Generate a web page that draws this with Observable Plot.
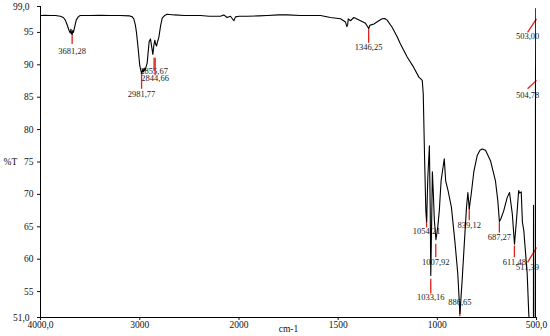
<!DOCTYPE html>
<html>
<head>
<meta charset="utf-8">
<script src="https://cdn.jsdelivr.net/npm/d3@7"></script>
<script src="https://cdn.jsdelivr.net/npm/@observablehq/plot@0.6"></script>
<style>
  html, body { margin: 0; padding: 0; background: #fff; }
  #chart { width: 550px; height: 336px; }
</style>
</head>
<body>
<div id="chart"></div>
<script>
// Spectrum (wavenumber cm-1, %T)
const wavenumber = [4000,3950,3900,3850,3800,3770,3750,3730,3712,3700,3693,3687,3681,3675,3668,3655,3640,3620,3600,3500,3400,3300,3200,3100,3075,3060,3045,3033,3016,3000,2990,2981,2970,2962,2955,2948,2938,2925,2915,2905,2892,2880,2868,2858,2848,2840,2831,2820,2808,2790,2774,2750,2723,2650,2550,2450,2388,2300,2187,2153,2120,2086,2052,2035,2000,1959,1900,1858,1800,1757,1690,1589,1539,1488,1463,1456,1452,1449,1438,1421,1400,1387,1362,1352,1346,1340,1330,1320,1295,1278,1265,1253,1228,1202,1186,1152,1119,1093,1076,1071,1064,1058,1054,1048,1040,1036,1033,1029,1025,1020,1015,1007,998,990,981,965,958,946,929,912,897,886,875,863,853,846,839,829,816,799,785,774,757,732,707,695,687,680,665,648,636,622,611,600,590,585,577,571,564,547,539,530,518,515.5,515,514.5,512,510,506,505,504.5,503.5,503,502.5,502,501.5,501,500.5,500];
const transmittance = [97.6,97.65,97.6,97.6,97.5,97.3,96.9,96.1,95.3,94.9,95.5,94.8,94.7,95.3,95.0,95.9,96.9,97.4,97.6,97.6,97.65,97.6,97.6,97.55,97.4,97.1,96.2,95.0,92.5,89.9,89.2,88.7,89.3,88.9,89.5,89.1,89.6,90.3,92.0,93.6,94.0,92.8,91.6,93.0,93.8,93.2,92.9,93.6,94.2,96.0,97.2,97.6,97.8,97.7,97.6,97.6,97.6,97.5,97.5,97.7,97.3,97.5,96.8,97.4,97.5,97.5,97.55,97.6,97.7,97.7,97.6,97.6,97.3,97.1,96.6,95.9,96.2,97.1,96.8,97.3,97.0,96.8,96.4,95.9,95.6,96.1,96.2,96.3,96.8,97.1,97.15,96.9,95.8,94.3,93.2,91.2,89.6,88.1,87.6,85.5,75.2,67.5,65.8,72.6,77.5,68,57.5,65,73.5,70,66,63.0,64.9,67.5,72.1,75.5,72.1,70.6,68,62.9,57.8,51.6,56.7,62.9,68,70.3,67.8,70.1,73.5,76.0,76.8,77.0,76.8,75.2,72.1,69,65.8,66.2,67.5,69.5,70.3,67,62.3,66.4,70.6,70.2,70.4,65.7,64.4,57.8,51.6,47,45,48,68.3,48,45,45,46,89,90,98.7,95.5,98.7,95,98.7,60,45,45];

// Axis ticks
const xTickValues = [4000, 3000, 2000, 1500, 1000, 500];
const xTickLabels = ["4000,0", "3000", "2000", "1500", "1000", "500,0"];
const yTickValues = [95, 90, 85, 80, 75, 70, 65, 60, 55];
const yTickLabels = ["95", "90", "85", "80", "75", "70", "65", "60", "55"];
const yEndValues = [99, 51];
const yEndLabels = ["99,0", "51,0"];

// Peak annotations (vertical markers)
const peakLabels = ["3681,28","2981,77","2855,67","2844,66","1346,25","1054,21","1033,16","1007,92","886,65","839,12","687,27","611,48"];
const peakWn = [3681.28,2981.77,2855.67,2844.66,1346.25,1054.21,1033.16,1007.92,886.65,839.12,687.27,611.48];
const markTop = [94.8,88.7,91.1,91.1,95.6,67.2,57.0,62.4,52.6,68.0,65.7,62.1];
const markBottom = [93.2,86.3,89.1,88.4,93.4,64.9,54.7,60.3,51.2,66.0,64.1,60.3];
const labelT = [92.1,85.4,89.0,88.0,92.7,64.3,54.1,59.6,53.3,65.2,63.4,59.6];

// Peak annotations (slanted markers near 500)
const slantLabels = ["503,00","504,78","511,39"];
const slantFromT = [95.0,86.3,59.5];
const slantToT = [97.1,87.6,61.8];
const slantLabelT = [94.4,85.3,58.7];
const slantFromWn = 545, slantToWn = 500;

const spectrum = wavenumber.map((w, i) => ({w, t: transmittance[i]}));
const peaks = peakWn.map((w, i) => ({w, label: peakLabels[i], top: markTop[i], bottom: markBottom[i], lt: labelT[i]}));
const slants = slantLabels.map((label, i) => ({label, x1: slantFromWn, x2: slantToWn, y1: slantFromT[i], y2: slantToT[i], lt: slantLabelT[i]}));

const red = "#e0201c";
const chart = Plot.plot({
  width: 550,
  height: 336,
  marginLeft: 40,
  marginRight: 14,
  marginTop: 6,
  marginBottom: 19,
  style: {fontFamily: "'Liberation Serif', 'DejaVu Serif', serif", fontSize: "9.5px", background: "#fff", color: "#111", overflow: "visible"},
  x: {type: "linear", domain: [4000, 2000, 500], range: [40, 238.5, 536]},
  y: {domain: [51, 99]},
  marks: [
    Plot.axisY(yTickValues, {tickSize: 3, tickPadding: 4, fontSize: 9.5, tickFormat: d => yTickLabels[yTickValues.indexOf(d)], label: null}),
    Plot.axisY(yEndValues, {tickSize: 3, tickPadding: 8, fontSize: 9.5, tickFormat: d => yEndLabels[yEndValues.indexOf(d)], label: null}),
    Plot.axisX(xTickValues, {tickSize: 3, tickPadding: 1, fontSize: 9.5, tickFormat: d => xTickLabels[xTickValues.indexOf(d)], label: null}),
    Plot.ruleY([51], {stroke: "#000", strokeWidth: 1}),
    Plot.ruleX([4000], {stroke: "#000", strokeWidth: 1}),
    Plot.text(["%T"], {frameAnchor: "left", textAnchor: "start", dx: -37, fontSize: 9.5}),
    Plot.text(["cm-1"], {frameAnchor: "bottom", dy: 14, fontSize: 9.5}),
    Plot.text(peaks, {x: "w", y: "lt", text: "label", fontSize: 8.5, fill: "#222"}),
    Plot.text(slants, {x: "x1", y: "lt", text: "label", fontSize: 8.5, fill: "#222"}),
    Plot.link(peaks, {x1: "w", x2: "w", y1: "top", y2: "bottom", stroke: red, strokeWidth: 1.3}),
    Plot.link(slants, {x1: "x1", x2: "x2", y1: "y1", y2: "y2", stroke: red, strokeWidth: 1.3}),
    Plot.line(spectrum, {x: "w", y: "t", stroke: "#000", strokeWidth: 1.1, clip: true})
  ]
});
document.getElementById("chart").appendChild(chart);
</script>
</body>
</html>
